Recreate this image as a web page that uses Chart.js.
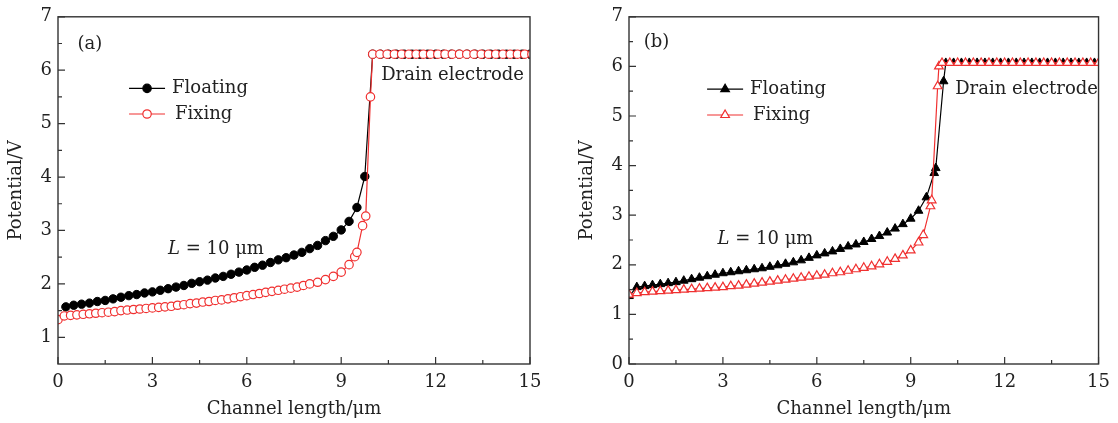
<!DOCTYPE html>
<html>
<head>
<meta charset="utf-8">
<script src="https://cdn.jsdelivr.net/npm/chart.js@4/dist/chart.umd.min.js"></script>
<style>
  html, body { margin: 0; padding: 0; background: #fff; }
  #wrap { position: relative; width: 1118px; height: 423px; }
  canvas { position: absolute; top: 0; }
  #chartA { left: 0; }
  #chartB { left: 559px; }
</style>
</head>
<body>
<div id="wrap">
  <canvas id="chartA" width="559" height="423"></canvas>
  <canvas id="chartB" width="559" height="423"></canvas>
</div>
<script>
// ---- data ----
const xTicks = [0, 3, 6, 9, 12, 15];
const xMinor = [1.5, 4.5, 7.5, 10.5, 13.5];
const yTicksA = [1, 2, 3, 4, 5, 6, 7];
const yMinorA = [1.5, 2.5, 3.5, 4.5, 5.5, 6.5];
const yTicksB = [0, 1, 2, 3, 4, 5, 6, 7];
const yMinorB = [0.5, 1.5, 2.5, 3.5, 4.5, 5.5, 6.5];

// (a) floating
const floatA_x = [
  0.25, 0.5, 0.75, 1.0, 1.25, 1.5, 1.75, 2.0, 2.25, 2.5, 2.75, 3.0, 3.25,
  3.5, 3.75, 4.0, 4.25, 4.5, 4.75, 5.0, 5.25, 5.5, 5.75, 6.0, 6.25, 6.5,
  6.75, 7.0, 7.25, 7.5, 7.75, 8.0, 8.25, 8.5, 8.75, 9.0, 9.25, 9.5, 9.75,
  10.0, 10.25, 10.5, 10.75, 11.0, 11.25, 11.5, 11.75, 12.0, 12.25, 12.5,
  12.75, 13.0, 13.25, 13.5, 13.75, 14.0, 14.25, 14.5, 14.75, 15.0
];
const floatA_y = [
  1.57, 1.60, 1.62, 1.64, 1.67, 1.69, 1.72, 1.75, 1.78, 1.80, 1.83, 1.85, 1.88,
  1.91, 1.94, 1.97, 2.01, 2.04, 2.07, 2.11, 2.14, 2.18, 2.22, 2.26, 2.31, 2.35,
  2.40, 2.45, 2.49, 2.54, 2.59, 2.66, 2.72, 2.81, 2.89, 3.01, 3.17, 3.43, 4.01,
  6.30, 6.30, 6.30, 6.30, 6.30, 6.30, 6.30, 6.30, 6.30, 6.30, 6.30,
  6.30, 6.30, 6.30, 6.30, 6.30, 6.30, 6.30, 6.30, 6.30, 6.30
];
// (a) fixing
const fixA_x = [
  0, 0.2, 0.4, 0.6, 0.8, 1.0, 1.2, 1.4, 1.6, 1.8, 2.0, 2.2, 2.4, 2.6, 2.8,
  3.0, 3.2, 3.4, 3.6, 3.8, 4.0, 4.2, 4.4, 4.6, 4.8, 5.0, 5.2, 5.4, 5.6, 5.8,
  6.0, 6.2, 6.4, 6.6, 6.8, 7.0, 7.2, 7.4, 7.6, 7.8, 8.0,
  8.25, 8.5, 8.75, 9.0, 9.25, 9.43, 9.5, 9.68, 9.78, 9.93,
  10.0, 10.23, 10.46, 10.69, 10.92, 11.15, 11.38, 11.61, 11.84, 12.07, 12.3,
  12.53, 12.76, 12.99, 13.22, 13.45, 13.68, 13.91, 14.14, 14.37, 14.6, 14.83, 15.06
];
const fixA_y = [
  1.33, 1.40, 1.41, 1.42, 1.43, 1.44, 1.45, 1.46, 1.47, 1.48, 1.50, 1.51, 1.52, 1.53, 1.54,
  1.55, 1.56, 1.57, 1.58, 1.60, 1.61, 1.63, 1.64, 1.66, 1.67, 1.69, 1.70, 1.72, 1.74, 1.76,
  1.78, 1.80, 1.82, 1.84, 1.86, 1.88, 1.90, 1.92, 1.94, 1.97, 2.00,
  2.03, 2.08, 2.14, 2.22, 2.36, 2.51, 2.59, 3.09, 3.27, 5.50,
  6.30, 6.30, 6.30, 6.30, 6.30, 6.30, 6.30, 6.30, 6.30, 6.30, 6.30,
  6.30, 6.30, 6.30, 6.30, 6.30, 6.30, 6.30, 6.30, 6.30, 6.30, 6.30, 6.30
];

// (b) floating
const floatB_x = [
  0, 0.25, 0.5, 0.75, 1.0, 1.25, 1.5, 1.75, 2.0, 2.25, 2.5, 2.75, 3.0, 3.25,
  3.5, 3.75, 4.0, 4.25, 4.5, 4.75, 5.0, 5.25, 5.5, 5.75, 6.0, 6.25, 6.5,
  6.75, 7.0, 7.25, 7.5, 7.75, 8.0, 8.25, 8.5, 8.75, 9.0, 9.25, 9.5, 9.75,
  9.8, 10.05,
  10.12, 10.37, 10.62, 10.87, 11.12, 11.37, 11.62, 11.87, 12.12, 12.37,
  12.62, 12.87, 13.12, 13.37, 13.62, 13.87, 14.12, 14.37, 14.62, 14.87
];
const floatB_y = [
  1.37, 1.55, 1.57, 1.59, 1.61, 1.63, 1.65, 1.68, 1.71, 1.74, 1.77, 1.80, 1.83, 1.85,
  1.87, 1.89, 1.91, 1.93, 1.96, 1.99, 2.02, 2.05, 2.09, 2.14, 2.19, 2.23, 2.27,
  2.32, 2.37, 2.41, 2.46, 2.52, 2.58, 2.65, 2.73, 2.82, 2.93, 3.09, 3.36, 3.85,
  3.95, 5.70,
  6.07, 6.07, 6.07, 6.07, 6.07, 6.07, 6.07, 6.07, 6.07, 6.07,
  6.07, 6.07, 6.07, 6.07, 6.07, 6.07, 6.07, 6.07, 6.07, 6.07
];
// (b) fixing
const fixB_x = [
  0, 0.25, 0.5, 0.75, 1.0, 1.25, 1.5, 1.75, 2.0, 2.25, 2.5, 2.75, 3.0, 3.25,
  3.5, 3.75, 4.0, 4.25, 4.5, 4.75, 5.0, 5.25, 5.5, 5.75, 6.0, 6.25, 6.5,
  6.75, 7.0, 7.25, 7.5, 7.75, 8.0, 8.25, 8.5, 8.75, 9.0, 9.25,
  9.4, 9.63, 9.67, 9.86, 9.9,
  10.0, 10.25, 10.5, 10.75, 11.0, 11.25, 11.5, 11.75, 12.0, 12.25, 12.5,
  12.75, 13.0, 13.25, 13.5, 13.75, 14.0, 14.25, 14.5, 14.75, 15.0
];
const fixB_y = [
  1.40, 1.43, 1.45, 1.46, 1.47, 1.48, 1.49, 1.50, 1.51, 1.52, 1.53, 1.54, 1.55, 1.57,
  1.58, 1.60, 1.62, 1.64, 1.66, 1.68, 1.70, 1.72, 1.74, 1.76, 1.78, 1.80, 1.83,
  1.85, 1.88, 1.91, 1.94, 1.97, 2.01, 2.06, 2.12, 2.19, 2.29, 2.45,
  2.60, 3.18, 3.30, 5.60, 6.00,
  6.07, 6.07, 6.07, 6.07, 6.07, 6.07, 6.07, 6.07, 6.07, 6.07, 6.07,
  6.07, 6.07, 6.07, 6.07, 6.07, 6.07, 6.07, 6.07, 6.07, 6.07
];

const FONT = "'DejaVu Serif', 'Liberation Serif', serif";
const FS = 18;
const TEXT = "#222";
const RED = "#f03030";

function toPoints(xs, ys) {
  return xs.map(function (x, i) {
    return { x: x, y: ys[i] };
  });
}

function drawMarker(ctx, style, filled, color, x, y, r) {
  ctx.beginPath();
  if (style === "circle") {
    ctx.arc(x, y, r, 0, Math.PI * 2);
  } else {
    ctx.moveTo(x, y - r);
    ctx.lineTo(x + Math.sin(Math.PI / 3) * r, y + r * 0.5);
    ctx.lineTo(x - Math.sin(Math.PI / 3) * r, y + r * 0.5);
    ctx.closePath();
  }
  ctx.fillStyle = filled ? color : "#fff";
  ctx.fill();
  ctx.lineWidth = 1.2;
  ctx.strokeStyle = color;
  ctx.stroke();
}

// frame, inward ticks, legend and labels
const decorPlugin = {
  id: "decor",
  afterDraw: function (chart, args, opts) {
    let ctx = chart.ctx;
    let area = chart.chartArea;
    let xs = chart.scales.x;
    let ys = chart.scales.y;
    ctx.save();
    ctx.strokeStyle = "#333";
    ctx.lineWidth = 1.4;
    ctx.strokeRect(area.left, area.top, area.right - area.left, area.bottom - area.top);

    ctx.lineWidth = 1.2;
    ctx.beginPath();
    xTicks.forEach(function (v) {
      let px = xs.getPixelForValue(v);
      ctx.moveTo(px, area.bottom);
      ctx.lineTo(px, area.bottom - 7);
    });
    xMinor.forEach(function (v) {
      let px = xs.getPixelForValue(v);
      ctx.moveTo(px, area.bottom);
      ctx.lineTo(px, area.bottom - 4);
    });
    opts.yMajor.forEach(function (v) {
      let py = ys.getPixelForValue(v);
      ctx.moveTo(area.left, py);
      ctx.lineTo(area.left + 7, py);
    });
    opts.yMinor.forEach(function (v) {
      let py = ys.getPixelForValue(v);
      ctx.moveTo(area.left, py);
      ctx.lineTo(area.left + 4, py);
    });
    ctx.stroke();

    // legend
    ctx.font = FS + "px " + FONT;
    ctx.textBaseline = "middle";
    ctx.textAlign = "left";
    opts.legend.forEach(function (item) {
      let cx = xs.getPixelForValue(item.x);
      let cy = ys.getPixelForValue(item.y);
      ctx.beginPath();
      ctx.moveTo(cx - 18, cy);
      ctx.lineTo(cx + 18, cy);
      ctx.lineWidth = 1.2;
      ctx.strokeStyle = item.color;
      ctx.stroke();
      drawMarker(ctx, item.style, item.filled, item.color, cx, cy, item.r);
      ctx.fillStyle = TEXT;
      ctx.fillText(item.text, cx + item.gap, cy);
    });

    // text labels
    ctx.textAlign = "center";
    opts.labels.forEach(function (lb) {
      let cx = xs.getPixelForValue(lb.x);
      let cy = ys.getPixelForValue(lb.y);
      ctx.fillStyle = TEXT;
      if (lb.italic) {
        ctx.font = FS + "px " + FONT;
        let w1 = ctx.measureText(lb.text).width;
        ctx.font = "italic " + FS + "px " + FONT;
        let w0 = ctx.measureText(lb.italic).width;
        let start = cx - (w0 + w1) / 2;
        ctx.textAlign = "left";
        ctx.fillText(lb.italic, start, cy);
        ctx.font = FS + "px " + FONT;
        ctx.fillText(lb.text, start + w0, cy);
        ctx.textAlign = "center";
      } else {
        ctx.font = FS + "px " + FONT;
        ctx.fillText(lb.text, cx, cy);
      }
    });
    ctx.restore();
  },
};

function makePanel(canvasId, cfg) {
  let ctx = document.getElementById(canvasId).getContext("2d");
  return new Chart(ctx, {
    type: "scatter",
    data: {
      datasets: [
        {
          label: "Fixing",
          data: toPoints(cfg.fixX, cfg.fixY),
          showLine: true,
          borderColor: RED,
          borderWidth: 1.2,
          pointStyle: cfg.style,
          pointRadius: cfg.r,
          pointBackgroundColor: "#fff",
          pointBorderColor: RED,
          pointBorderWidth: 1.2,
          clip: 0,
          order: 1,
        },
        {
          label: "Floating",
          data: toPoints(cfg.floatX, cfg.floatY),
          showLine: true,
          borderColor: "#000",
          borderWidth: 1.2,
          pointStyle: cfg.style,
          pointRadius: cfg.r,
          pointBackgroundColor: "#000",
          pointBorderColor: "#000",
          pointBorderWidth: 1,
          clip: 0,
          order: 2,
        },
      ],
    },
    options: {
      responsive: false,
      animation: false,
      layout: { padding: { top: 14, right: cfg.padRight, left: 0, bottom: 0 } },
      plugins: {
        legend: { display: false },
        tooltip: { enabled: false },
        decor: cfg.decor,
      },
      scales: {
        x: {
          type: "linear",
          min: 0,
          max: 15,
          afterBuildTicks: function (scale) {
            scale.ticks = xTicks.map(function (v) { return { value: v }; });
          },
          afterFit: function (scale) { scale.height = 59; },
          grid: { display: false, drawTicks: false },
          border: { display: false },
          ticks: {
            color: TEXT,
            font: { family: FONT, size: FS },
            padding: 8,
            maxRotation: 0,
            autoSkip: false,
          },
          title: {
            display: true,
            text: "Channel length/μm",
            color: TEXT,
            font: { family: FONT, size: FS },
            padding: { top: 0, bottom: 3 },
          },
        },
        y: {
          type: "linear",
          min: cfg.yMin,
          max: 7,
          afterBuildTicks: function (scale) {
            scale.ticks = cfg.yTicks.map(function (v) { return { value: v }; });
          },
          afterFit: function (scale) { scale.width = cfg.yWidth; },
          grid: { display: false, drawTicks: false },
          border: { display: false },
          ticks: {
            color: TEXT,
            font: { family: FONT, size: FS },
            padding: 6,
            autoSkip: false,
          },
          title: {
            display: true,
            text: "Potential/V",
            color: TEXT,
            font: { family: FONT, size: FS },
            padding: { top: cfg.yTitlePad, bottom: 0 },
          },
        },
      },
    },
    plugins: [decorPlugin],
  });
}

makePanel("chartA", {
  fixX: fixA_x, fixY: fixA_y, floatX: floatA_x, floatY: floatA_y,
  style: "circle", r: 4.2, yMin: 0.5, yTicks: yTicksA,
  yWidth: 58, yTitlePad: 6, padRight: 29,
  decor: {
    yMajor: yTicksA, yMinor: yMinorA,
    legend: [
      { x: 2.83, y: 5.66, text: "Floating", style: "circle", filled: true, color: "#000", r: 4.2, gap: 25 },
      { x: 2.83, y: 5.18, text: "Fixing", style: "circle", filled: false, color: RED, r: 4.2, gap: 28 },
    ],
    labels: [
      { x: 1.01, y: 6.49, text: "(a)" },
      { x: 12.54, y: 5.9, text: "Drain electrode" },
      { x: 5.02, y: 2.64, italic: "L", text: " = 10 μm" },
    ],
  },
});

makePanel("chartB", {
  fixX: fixB_x, fixY: fixB_y, floatX: floatB_x, floatY: floatB_y,
  style: "triangle", r: 5, yMin: 0, yTicks: yTicksB,
  yWidth: 70, yTitlePad: 18, padRight: 17,
  decor: {
    yMajor: yTicksB, yMinor: yMinorB,
    legend: [
      { x: 3.07, y: 5.54, text: "Floating", style: "triangle", filled: true, color: "#000", r: 5, gap: 25 },
      { x: 3.07, y: 5.02, text: "Fixing", style: "triangle", filled: false, color: RED, r: 5, gap: 28 },
    ],
    labels: [
      { x: 0.88, y: 6.48, text: "(b)" },
      { x: 12.7, y: 5.54, text: "Drain electrode" },
      { x: 4.36, y: 2.52, italic: "L", text: " = 10 μm" },
    ],
  },
});
</script>
</body>
</html>
